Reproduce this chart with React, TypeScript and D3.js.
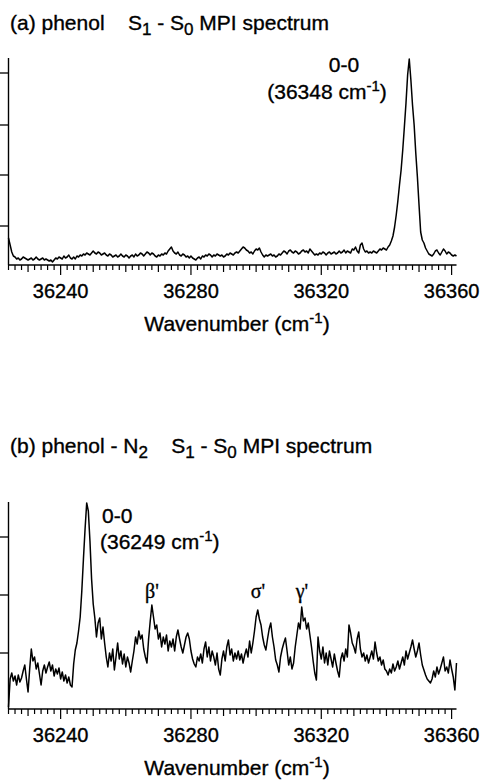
import React from 'react';
import * as d3 from 'd3';

// wavenumber grid shared by both spectra (cm-1)
const wnStart = 36224;
const wnStep = 0.5;
const wnEnd = 36361.5;

// (a) phenol, signal in arbitrary units
const phenolSignal = [
  27, 20, 13, 9, 8, 6, 7, 5, 6, 8, 7, 6, 5, 6, 7, 5, 6, 8, 6, 5,
  6, 7, 5, 6, 5, 4, 5, 3, 5, 7, 6, 8, 7, 6, 9, 7, 8, 10, 7, 6,
  8, 6, 9, 8, 10, 9, 11, 10, 12, 11, 10, 12, 14, 12, 11, 13, 12, 10, 11, 12,
  10, 9, 11, 10, 8, 9, 10, 8, 9, 11, 9, 8, 10, 9, 7, 9, 10, 8, 11, 9,
  10, 12, 11, 9, 11, 13, 12, 10, 12, 11, 9, 8, 10, 9, 11, 10, 12, 11, 14, 16,
  18, 14, 12, 11, 13, 10, 9, 11, 10, 8, 9, 7, 9, 7, 6, 5, 7, 8, 6, 9,
  8, 10, 9, 11, 10, 8, 10, 9, 11, 10, 9, 10, 8, 9, 11, 10, 12, 11, 10, 12,
  13, 12, 14, 16, 18, 17, 15, 14, 12, 13, 11, 14, 16, 15, 17, 13, 10, 8, 10, 9,
  10, 11, 9, 10, 8, 9, 11, 10, 12, 14, 13, 11, 14, 15, 13, 12, 14, 13, 11, 12,
  14, 15, 13, 14, 12, 16, 14, 12, 10, 11, 10, 12, 11, 13, 12, 10, 12, 13, 11, 12,
  13, 11, 12, 14, 12, 13, 15, 12, 14, 13, 12, 16, 15, 18, 14, 12, 20, 22, 16, 13,
  14, 12, 13, 12, 14, 13, 12, 14, 16, 15, 17, 16, 15, 18, 20, 24, 29, 38, 50, 64,
  80, 95, 115, 138, 162, 190, 206, 185, 160, 140, 112, 88, 60, 33, 25, 22, 17, 14, 11, 10,
  9, 11, 14, 15, 12, 10, 13, 16, 14, 11, 13, 12, 10, 9, 10, 9,
];

// (b) phenol-N2, signal in arbitrary units
const complexSignal = [
  2, 30, 36, 28, 33, 24, 34, 27, 31, 38, 44, 30, 17, 40, 60, 48, 52, 40, 46, 35,
  24, 38, 44, 36, 42, 47, 38, 44, 33, 40, 35, 41, 30, 37, 28, 34, 26, 32, 24, 22,
  45, 59, 66, 78, 92, 118, 150, 180, 206, 198, 168, 130, 105, 91, 72, 86, 91, 70, 82, 66,
  52, 42, 56, 48, 60, 39, 52, 66, 50, 58, 45, 55, 42, 52, 46, 37, 48, 58, 72, 65,
  78, 70, 74, 60, 52, 46, 70, 88, 104, 92, 80, 84, 70, 76, 62, 72, 65, 74, 58, 68,
  62, 70, 58, 72, 79, 70, 62, 56, 64, 72, 76, 70, 58, 50, 45, 42, 52, 48, 55, 46,
  60, 67, 52, 62, 48, 58, 52, 44, 56, 40, 34, 50, 58, 48, 62, 69, 54, 60, 48, 56,
  50, 58, 49, 55, 46, 54, 60, 52, 68, 56, 66, 78, 92, 99, 90, 84, 72, 64, 59, 70,
  80, 86, 72, 62, 49, 44, 37, 52, 60, 66, 71, 58, 44, 52, 40, 46, 62, 74, 86, 80,
  102, 88, 91, 80, 86, 74, 62, 48, 36, 29, 72, 58, 50, 62, 46, 56, 44, 58, 50, 42,
  55, 46, 38, 32, 50, 56, 48, 60, 52, 84, 76, 66, 62, 56, 70, 77, 60, 52, 56, 48,
  54, 46, 52, 58, 50, 67, 56, 48, 52, 44, 49, 40, 38, 34, 40, 36, 45, 38, 42, 48,
  40, 46, 52, 44, 58, 50, 56, 62, 69, 60, 52, 58, 66, 54, 44, 39, 34, 30, 28, 26,
  30, 38, 32, 42, 35, 40, 46, 52, 38, 42, 36, 49, 40, 32, 19, 46,
];

const xTickLabels = [36240, 36280, 36320, 36360];
const phenolYTicks = [39, 90, 140, 192];
const complexYTicks = [56, 114, 172];

const sans = '"Liberation Sans", Arial, Helvetica, sans-serif';
const serif = '"Liberation Serif", "Times New Roman", serif';
const ink = { fill: '#000', stroke: '#000', strokeWidth: 0.35 };

function Panel({ values, top, bottom, yTicks }: { values: number[]; top: number; bottom: number; yTicks: number[] }) {
  const x = d3.scaleLinear().domain([wnStart, wnEnd]).range([8.5, 456.5]);
  const y = d3.scaleLinear().domain([0, 207]).range([bottom, top]);
  const line = d3.line<number>()
    .x((d, i) => x(wnStart + i * wnStep))
    .y(d => y(d));
  const minor = d3.range(wnStart, wnEnd, 2);

  return (
    <g>
      <path d={line(values) || ''} fill="none" stroke="#000" strokeWidth={1.5} strokeLinejoin="round" />
      <line x1={x(wnStart)} x2={x(wnStart)} y1={top} y2={bottom} stroke="#000" strokeWidth={1.4} />
      <line x1={x(wnStart)} x2={x(wnEnd)} y1={bottom} y2={bottom} stroke="#000" strokeWidth={1.4} />
      {yTicks.map(t => (
        <line key={t} x1={0} x2={x(wnStart)} y1={y(t)} y2={y(t)} stroke="#000" strokeWidth={1.3} />
      ))}
      {minor.map(t => {
        const len = t % 40 === 0 ? 10 : t % 10 === 0 ? 7 : 5;
        return <line key={t} x1={x(t)} x2={x(t)} y1={bottom} y2={bottom + len} stroke="#000" strokeWidth={1.2} />;
      })}
      {xTickLabels.map(t => (
        <text key={t} x={x(t)} y={bottom + 33} textAnchor="middle" fontFamily={sans} fontSize={20} {...ink}>{t}</text>
      ))}
      <text x={237} y={bottom + 66} textAnchor="middle" fontFamily={sans} fontSize={21} {...ink}>
        Wavenumber (cm<tspan dy={-8} fontSize={15}>-1</tspan><tspan dy={8}>)</tspan>
      </text>
    </g>
  );
}

export default function App() {
  return (
    <svg width={480} height={781} style={{ position: 'absolute', left: 0, top: 0, background: '#fff' }}>
      <text x={10} y={30} fontFamily={sans} fontSize={21} style={{ whiteSpace: 'pre' }} {...ink}>
        <tspan>{'(a) phenol    S'}</tspan>
        <tspan dy={5} fontSize={17}>1</tspan>
        <tspan dy={-5}>{' - S'}</tspan>
        <tspan dy={5} fontSize={17}>0</tspan>
        <tspan dy={-5}>{' MPI spectrum'}</tspan>
      </text>
      <Panel values={phenolSignal} top={58} bottom={265} yTicks={phenolYTicks} />
      <text x={344} y={72} textAnchor="middle" fontFamily={sans} fontSize={21} {...ink}>0-0</text>
      <text x={327} y={99} textAnchor="middle" fontFamily={sans} fontSize={21} {...ink}>
        (36348 cm<tspan dy={-8} fontSize={15}>-1</tspan><tspan dy={8}>)</tspan>
      </text>

      <text x={10} y={453} fontFamily={sans} fontSize={21} style={{ whiteSpace: 'pre' }} {...ink}>
        <tspan>{'(b) phenol - N'}</tspan>
        <tspan dy={5} fontSize={17}>2</tspan>
        <tspan dy={-5}>{'    S'}</tspan>
        <tspan dy={5} fontSize={17}>1</tspan>
        <tspan dy={-5}>{' - S'}</tspan>
        <tspan dy={5} fontSize={17}>0</tspan>
        <tspan dy={-5}>{' MPI spectrum'}</tspan>
      </text>
      <Panel values={complexSignal} top={502} bottom={709} yTicks={complexYTicks} />
      <text x={102} y={523} fontFamily={sans} fontSize={21} {...ink}>0-0</text>
      <text x={100} y={549} fontFamily={sans} fontSize={21} {...ink}>
        (36249 cm<tspan dy={-8} fontSize={15}>-1</tspan><tspan dy={8}>)</tspan>
      </text>
      <text x={152} y={598} textAnchor="middle" fontFamily={serif} fontSize={20} {...ink}>β'</text>
      <text x={258} y={598} textAnchor="middle" fontFamily={serif} fontSize={20} {...ink}>σ'</text>
      <text x={302} y={598} textAnchor="middle" fontFamily={serif} fontSize={20} {...ink}>γ'</text>
    </svg>
  );
}
